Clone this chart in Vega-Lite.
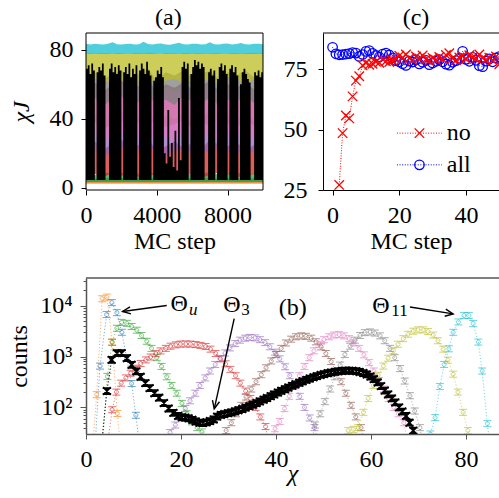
{
"$schema": "https://vega.github.io/schema/vega-lite/v6.json",
"width": 413, "height": 401,
"autosize": {"type": "none"},
"padding": {"left": 86, "top": 33, "right": 0, "bottom": 64},
"background": "white",
"config": {
  "view": {"stroke": null},
  "font": "Liberation Serif",
  "axis": {"labelFont": "Liberation Serif", "titleFont": "Liberation Serif", "labelFontSize": 24, "titleFontSize": 24, "titleFontWeight": "normal", "labelColor": "black", "titleColor": "black", "tickColor": "black", "domainColor": "black", "grid": false, "tickSize": 5, "labelPadding": 8, "labelFlush": false, "labelOverlap": false, "tickWidth": 1, "domainWidth": 1},
  "text": {"font": "Liberation Serif", "fontSize": 24, "color": "black"}
},
"datasets": {
"ta": [
{"t":0,"s":"blue","lo":3,"hi":5.6},{"t":500,"s":"blue","lo":3,"hi":5.2},{"t":1000,"s":"blue","lo":3,"hi":6.0},{"t":1500,"s":"blue","lo":3,"hi":5.4},{"t":2000,"s":"blue","lo":3,"hi":5.8},{"t":2500,"s":"blue","lo":3,"hi":5.1},{"t":3000,"s":"blue","lo":3,"hi":5.5},{"t":3500,"s":"blue","lo":3,"hi":6.1},{"t":4000,"s":"blue","lo":3,"hi":5.3},{"t":4500,"s":"blue","lo":3,"hi":5.7},{"t":5000,"s":"blue","lo":3,"hi":5.0},{"t":5500,"s":"blue","lo":3,"hi":5.9},{"t":6000,"s":"blue","lo":3,"hi":5.4},{"t":6500,"s":"blue","lo":3,"hi":5.6},{"t":7000,"s":"blue","lo":3,"hi":6.0},{"t":7500,"s":"blue","lo":3,"hi":5.2},{"t":8000,"s":"blue","lo":3,"hi":5.5},{"t":8500,"s":"blue","lo":3,"hi":5.8},{"t":9000,"s":"blue","lo":3,"hi":5.3},{"t":9500,"s":"blue","lo":3,"hi":5.7},{"t":10000,"s":"blue","lo":3,"hi":5.4},
{"t":0,"s":"orange","lo":2.3,"hi":4.2},{"t":500,"s":"orange","lo":2.3,"hi":3.9},{"t":1000,"s":"orange","lo":2.3,"hi":4.4},{"t":1500,"s":"orange","lo":2.3,"hi":4.0},{"t":2000,"s":"orange","lo":2.3,"hi":4.3},{"t":2500,"s":"orange","lo":2.3,"hi":3.8},{"t":3000,"s":"orange","lo":2.3,"hi":4.1},{"t":3500,"s":"orange","lo":2.3,"hi":4.5},{"t":4000,"s":"orange","lo":2.3,"hi":3.9},{"t":4500,"s":"orange","lo":2.3,"hi":4.2},{"t":5000,"s":"orange","lo":2.3,"hi":4.0},{"t":5500,"s":"orange","lo":2.3,"hi":4.4},{"t":6000,"s":"orange","lo":2.3,"hi":3.8},{"t":6500,"s":"orange","lo":2.3,"hi":4.1},{"t":7000,"s":"orange","lo":2.3,"hi":4.3},{"t":7500,"s":"orange","lo":2.3,"hi":3.9},{"t":8000,"s":"orange","lo":2.3,"hi":4.2},{"t":8500,"s":"orange","lo":2.3,"hi":4.0},{"t":9000,"s":"orange","lo":2.3,"hi":4.4},{"t":9500,"s":"orange","lo":2.3,"hi":3.9},{"t":10000,"s":"orange","lo":2.3,"hi":4.1},
{"t":0,"s":"green","lo":3.4,"hi":8.5},{"t":500,"s":"green","lo":3.4,"hi":7.2},{"t":1000,"s":"green","lo":3.4,"hi":9.1},{"t":1500,"s":"green","lo":3.4,"hi":7.8},{"t":2000,"s":"green","lo":3.4,"hi":8.8},{"t":2500,"s":"green","lo":3.4,"hi":6.9},{"t":3000,"s":"green","lo":3.4,"hi":8.2},{"t":3500,"s":"green","lo":3.4,"hi":9.4},{"t":4000,"s":"green","lo":3.4,"hi":7.5},{"t":4500,"s":"green","lo":3.4,"hi":8.6},{"t":5000,"s":"green","lo":3.4,"hi":7.9},{"t":5500,"s":"green","lo":3.4,"hi":9.2},{"t":6000,"s":"green","lo":3.4,"hi":7.1},{"t":6500,"s":"green","lo":3.4,"hi":8.4},{"t":7000,"s":"green","lo":3.4,"hi":8.9},{"t":7500,"s":"green","lo":3.4,"hi":7.6},{"t":8000,"s":"green","lo":3.4,"hi":8.1},{"t":8500,"s":"green","lo":3.4,"hi":9.0},{"t":9000,"s":"green","lo":3.4,"hi":7.4},{"t":9500,"s":"green","lo":3.4,"hi":8.3},{"t":10000,"s":"green","lo":3.4,"hi":8.0},
{"t":0,"s":"red","lo":7,"hi":24},{"t":500,"s":"red","lo":8,"hi":27},{"t":1000,"s":"red","lo":6,"hi":22},{"t":1500,"s":"red","lo":9,"hi":26},{"t":2000,"s":"red","lo":7,"hi":28},{"t":2500,"s":"red","lo":8,"hi":23},{"t":3000,"s":"red","lo":6,"hi":25},{"t":3500,"s":"red","lo":7,"hi":29},{"t":4000,"s":"red","lo":8,"hi":21},{"t":4500,"s":"red","lo":9,"hi":24},{"t":5000,"s":"red","lo":6,"hi":27},{"t":5500,"s":"red","lo":7,"hi":23},{"t":6000,"s":"red","lo":8,"hi":26},{"t":6500,"s":"red","lo":6,"hi":22},{"t":7000,"s":"red","lo":7,"hi":28},{"t":7500,"s":"red","lo":9,"hi":25},{"t":8000,"s":"red","lo":8,"hi":24},{"t":8500,"s":"red","lo":6,"hi":27},{"t":9000,"s":"red","lo":7,"hi":21},{"t":9500,"s":"red","lo":8,"hi":25},{"t":10000,"s":"red","lo":7,"hi":26},
{"t":0,"s":"purple","lo":20,"hi":40},{"t":500,"s":"purple","lo":22,"hi":43},{"t":1000,"s":"purple","lo":18,"hi":38},{"t":1500,"s":"purple","lo":21,"hi":42},{"t":2000,"s":"purple","lo":23,"hi":45},{"t":2500,"s":"purple","lo":19,"hi":39},{"t":3000,"s":"purple","lo":22,"hi":41},{"t":3500,"s":"purple","lo":20,"hi":44},{"t":4000,"s":"purple","lo":24,"hi":37},{"t":4500,"s":"purple","lo":18,"hi":42},{"t":5000,"s":"purple","lo":21,"hi":40},{"t":5500,"s":"purple","lo":23,"hi":43},{"t":6000,"s":"purple","lo":19,"hi":39},{"t":6500,"s":"purple","lo":22,"hi":41},{"t":7000,"s":"purple","lo":20,"hi":44},{"t":7500,"s":"purple","lo":24,"hi":38},{"t":8000,"s":"purple","lo":21,"hi":42},{"t":8500,"s":"purple","lo":19,"hi":40},{"t":9000,"s":"purple","lo":23,"hi":43},{"t":9500,"s":"purple","lo":20,"hi":39},{"t":10000,"s":"purple","lo":22,"hi":41},
{"t":0,"s":"brown","lo":36,"hi":58},{"t":500,"s":"brown","lo":38,"hi":61},{"t":1000,"s":"brown","lo":34,"hi":56},{"t":1500,"s":"brown","lo":37,"hi":60},{"t":2000,"s":"brown","lo":39,"hi":62},{"t":2500,"s":"brown","lo":35,"hi":57},{"t":3000,"s":"brown","lo":38,"hi":59},{"t":3500,"s":"brown","lo":36,"hi":63},{"t":4000,"s":"brown","lo":40,"hi":55},{"t":4500,"s":"brown","lo":35,"hi":60},{"t":5000,"s":"brown","lo":37,"hi":58},{"t":5500,"s":"brown","lo":39,"hi":61},{"t":6000,"s":"brown","lo":34,"hi":57},{"t":6500,"s":"brown","lo":38,"hi":59},{"t":7000,"s":"brown","lo":36,"hi":62},{"t":7500,"s":"brown","lo":40,"hi":56},{"t":8000,"s":"brown","lo":37,"hi":60},{"t":8500,"s":"brown","lo":35,"hi":58},{"t":9000,"s":"brown","lo":39,"hi":61},{"t":9500,"s":"brown","lo":36,"hi":57},{"t":10000,"s":"brown","lo":38,"hi":59},
{"t":0,"s":"pink","lo":28,"hi":56},{"t":500,"s":"pink","lo":31,"hi":59},{"t":1000,"s":"pink","lo":27,"hi":54},{"t":1500,"s":"pink","lo":30,"hi":58},{"t":2000,"s":"pink","lo":32,"hi":60},{"t":2500,"s":"pink","lo":26,"hi":55},{"t":3000,"s":"pink","lo":29,"hi":57},{"t":3500,"s":"pink","lo":31,"hi":61},{"t":4000,"s":"pink","lo":28,"hi":53},{"t":4500,"s":"pink","lo":30,"hi":58},{"t":5000,"s":"pink","lo":27,"hi":56},{"t":5500,"s":"pink","lo":32,"hi":59},{"t":6000,"s":"pink","lo":29,"hi":55},{"t":6500,"s":"pink","lo":28,"hi":57},{"t":7000,"s":"pink","lo":31,"hi":60},{"t":7500,"s":"pink","lo":27,"hi":54},{"t":8000,"s":"pink","lo":30,"hi":58},{"t":8500,"s":"pink","lo":29,"hi":56},{"t":9000,"s":"pink","lo":32,"hi":59},{"t":9500,"s":"pink","lo":28,"hi":55},{"t":10000,"s":"pink","lo":30,"hi":57},
{"t":0,"s":"gray","lo":49,"hi":65},{"t":500,"s":"gray","lo":52,"hi":67},{"t":1000,"s":"gray","lo":48,"hi":63},{"t":1500,"s":"gray","lo":51,"hi":66},{"t":2000,"s":"gray","lo":53,"hi":68},{"t":2500,"s":"gray","lo":47,"hi":64},{"t":3000,"s":"gray","lo":50,"hi":66},{"t":3500,"s":"gray","lo":52,"hi":69},{"t":4000,"s":"gray","lo":49,"hi":62},{"t":4500,"s":"gray","lo":51,"hi":67},{"t":5000,"s":"gray","lo":48,"hi":65},{"t":5500,"s":"gray","lo":53,"hi":68},{"t":6000,"s":"gray","lo":50,"hi":64},{"t":6500,"s":"gray","lo":49,"hi":66},{"t":7000,"s":"gray","lo":52,"hi":68},{"t":7500,"s":"gray","lo":48,"hi":63},{"t":8000,"s":"gray","lo":51,"hi":67},{"t":8500,"s":"gray","lo":50,"hi":65},{"t":9000,"s":"gray","lo":53,"hi":68},{"t":9500,"s":"gray","lo":49,"hi":64},{"t":10000,"s":"gray","lo":51,"hi":66},
{"t":0,"s":"olive","lo":62,"hi":78.0},{"t":500,"s":"olive","lo":63,"hi":78.2},{"t":1000,"s":"olive","lo":62,"hi":78.0},{"t":1500,"s":"olive","lo":61,"hi":78.1},{"t":2000,"s":"olive","lo":62,"hi":77.9},{"t":2500,"s":"olive","lo":63,"hi":78.1},{"t":3000,"s":"olive","lo":62,"hi":78.0},{"t":3500,"s":"olive","lo":60,"hi":78.2},{"t":4000,"s":"olive","lo":63,"hi":78.0},{"t":4500,"s":"olive","lo":62,"hi":78.1},{"t":5000,"s":"olive","lo":63,"hi":77.9},{"t":5500,"s":"olive","lo":61,"hi":78.0},{"t":6000,"s":"olive","lo":62,"hi":78.2},{"t":6500,"s":"olive","lo":63,"hi":78.0},{"t":7000,"s":"olive","lo":62,"hi":78.1},{"t":7500,"s":"olive","lo":60,"hi":77.9},{"t":8000,"s":"olive","lo":64,"hi":78.0},{"t":8500,"s":"olive","lo":63,"hi":78.1},{"t":9000,"s":"olive","lo":60,"hi":78.0},{"t":9500,"s":"olive","lo":63,"hi":78.2},{"t":10000,"s":"olive","lo":62,"hi":78.0},
{"t":0,"s":"cyan","lo":77.7,"hi":83.4},{"t":250,"s":"cyan","lo":77.6,"hi":83.1},{"t":500,"s":"cyan","lo":77.8,"hi":83.5},{"t":750,"s":"cyan","lo":77.6,"hi":83.2},{"t":1000,"s":"cyan","lo":77.5,"hi":83.0},{"t":1250,"s":"cyan","lo":77.6,"hi":83.4},{"t":1500,"s":"cyan","lo":77.8,"hi":84.4},{"t":1750,"s":"cyan","lo":77.6,"hi":83.2},{"t":2000,"s":"cyan","lo":77.5,"hi":83.0},{"t":2250,"s":"cyan","lo":77.7,"hi":83.3},{"t":2500,"s":"cyan","lo":77.8,"hi":83.5},{"t":2750,"s":"cyan","lo":77.6,"hi":83.1},{"t":3000,"s":"cyan","lo":77.5,"hi":83.2},{"t":3250,"s":"cyan","lo":77.7,"hi":84.6},{"t":3500,"s":"cyan","lo":77.6,"hi":83.3},{"t":3750,"s":"cyan","lo":77.5,"hi":83.0},{"t":4000,"s":"cyan","lo":77.7,"hi":83.4},{"t":4250,"s":"cyan","lo":77.8,"hi":83.6},{"t":4500,"s":"cyan","lo":77.6,"hi":83.1},{"t":4750,"s":"cyan","lo":77.5,"hi":82.9},{"t":5000,"s":"cyan","lo":77.6,"hi":83.4},{"t":5250,"s":"cyan","lo":77.7,"hi":84.1},{"t":5500,"s":"cyan","lo":77.6,"hi":83.2},{"t":5750,"s":"cyan","lo":77.6,"hi":83.1},{"t":6000,"s":"cyan","lo":77.8,"hi":83.4},{"t":6250,"s":"cyan","lo":77.6,"hi":83.5},{"t":6500,"s":"cyan","lo":77.5,"hi":83.0},{"t":6750,"s":"cyan","lo":77.7,"hi":83.2},{"t":7000,"s":"cyan","lo":77.7,"hi":84.3},{"t":7250,"s":"cyan","lo":77.6,"hi":83.2},{"t":7500,"s":"cyan","lo":77.5,"hi":83.1},{"t":7750,"s":"cyan","lo":77.7,"hi":83.4},{"t":8000,"s":"cyan","lo":77.7,"hi":83.6},{"t":8250,"s":"cyan","lo":77.6,"hi":83.0},{"t":8500,"s":"cyan","lo":77.6,"hi":83.3},{"t":8750,"s":"cyan","lo":77.7,"hi":83.9},{"t":9000,"s":"cyan","lo":77.6,"hi":83.2},{"t":9250,"s":"cyan","lo":77.5,"hi":83.0},{"t":9500,"s":"cyan","lo":77.6,"hi":83.4},{"t":9750,"s":"cyan","lo":77.7,"hi":83.5},{"t":10000,"s":"cyan","lo":77.6,"hi":83.2}
],
"tk": [
{"t":0,"lo":4.5,"hi":69},{"t":100,"lo":4.5,"hi":71},{"t":200,"lo":4.5,"hi":66},{"t":300,"lo":4.5,"hi":72},{"t":400,"lo":4.5,"hi":68},{"t":500,"lo":4.5,"hi":4.5},{"t":600,"lo":4.5,"hi":67},{"t":700,"lo":4.5,"hi":70},{"t":800,"lo":4.5,"hi":68},{"t":900,"lo":4.5,"hi":72},
{"t":1000,"lo":4.5,"hi":65},{"t":1100,"lo":4.5,"hi":4.5},{"t":1200,"lo":4.5,"hi":4.5},{"t":1300,"lo":4.5,"hi":69},{"t":1400,"lo":4.5,"hi":72},{"t":1500,"lo":4.5,"hi":67},{"t":1600,"lo":4.5,"hi":70},{"t":1700,"lo":4.5,"hi":66},{"t":1800,"lo":4.5,"hi":71},{"t":1900,"lo":4.5,"hi":68},
{"t":2000,"lo":4.5,"hi":4.5},{"t":2100,"lo":4.5,"hi":67},{"t":2200,"lo":4.5,"hi":70},{"t":2300,"lo":4.5,"hi":66},{"t":2400,"lo":4.5,"hi":72},{"t":2500,"lo":4.5,"hi":64},{"t":2600,"lo":4.5,"hi":69},{"t":2700,"lo":4.5,"hi":66},{"t":2800,"lo":4.5,"hi":71},{"t":2900,"lo":4.5,"hi":4.5},
{"t":3000,"lo":4.5,"hi":68},{"t":3100,"lo":4.5,"hi":72},{"t":3200,"lo":4.5,"hi":69},{"t":3300,"lo":4.5,"hi":66},{"t":3400,"lo":4.5,"hi":73},{"t":3500,"lo":4.5,"hi":68},{"t":3600,"lo":4.5,"hi":65},{"t":3700,"lo":4.5,"hi":4.5},{"t":3800,"lo":4.5,"hi":62},{"t":3900,"lo":4.5,"hi":64},
{"t":4000,"lo":4.5,"hi":68},{"t":4100,"lo":4.5,"hi":66},{"t":4200,"lo":4.5,"hi":70},{"t":4300,"lo":4.5,"hi":64},{"t":4400,"lo":4.5,"hi":20},{"t":4500,"lo":4.5,"hi":14},{"t":4600,"lo":4.5,"hi":45},{"t":4700,"lo":4.5,"hi":18},{"t":4800,"lo":4.5,"hi":26},{"t":4900,"lo":4.5,"hi":12},
{"t":5000,"lo":4.5,"hi":33},{"t":5100,"lo":4.5,"hi":10},{"t":5200,"lo":4.5,"hi":52},{"t":5300,"lo":4.5,"hi":16},{"t":5400,"lo":4.5,"hi":70},{"t":5500,"lo":4.5,"hi":73},{"t":5600,"lo":4.5,"hi":69},{"t":5700,"lo":4.5,"hi":72},{"t":5800,"lo":4.5,"hi":4.5},{"t":5900,"lo":4.5,"hi":66},
{"t":6000,"lo":4.5,"hi":70},{"t":6100,"lo":4.5,"hi":74},{"t":6200,"lo":4.5,"hi":71},{"t":6300,"lo":4.5,"hi":73},{"t":6400,"lo":4.5,"hi":69},{"t":6500,"lo":4.5,"hi":72},{"t":6600,"lo":4.5,"hi":70},{"t":6700,"lo":4.5,"hi":4.5},{"t":6800,"lo":4.5,"hi":4.5},{"t":6900,"lo":4.5,"hi":67},
{"t":7000,"lo":4.5,"hi":69},{"t":7100,"lo":4.5,"hi":65},{"t":7200,"lo":4.5,"hi":68},{"t":7300,"lo":4.5,"hi":4.5},{"t":7400,"lo":4.5,"hi":63},{"t":7500,"lo":4.5,"hi":70},{"t":7600,"lo":4.5,"hi":72},{"t":7700,"lo":4.5,"hi":68},{"t":7800,"lo":4.5,"hi":71},{"t":7900,"lo":4.5,"hi":66},
{"t":8000,"lo":4.5,"hi":4.5},{"t":8100,"lo":4.5,"hi":69},{"t":8200,"lo":4.5,"hi":71},{"t":8300,"lo":4.5,"hi":67},{"t":8400,"lo":4.5,"hi":70},{"t":8500,"lo":4.5,"hi":65},{"t":8600,"lo":4.5,"hi":4.5},{"t":8700,"lo":4.5,"hi":60},{"t":8800,"lo":4.5,"hi":67},{"t":8900,"lo":4.5,"hi":69},
{"t":9000,"lo":4.5,"hi":66},{"t":9100,"lo":4.5,"hi":63},{"t":9200,"lo":4.5,"hi":61},{"t":9300,"lo":4.5,"hi":4.5},{"t":9400,"lo":4.5,"hi":4.5},{"t":9500,"lo":4.5,"hi":67},{"t":9600,"lo":4.5,"hi":65},{"t":9700,"lo":4.5,"hi":68},{"t":9800,"lo":4.5,"hi":64},{"t":9900,"lo":4.5,"hi":67},{"t":10000,"lo":4.5,"hi":67}
],
"cc": [
{"m":0,"v":84.0,"s":"all"},{"m":1,"v":81.3,"s":"all"},{"m":2,"v":80.9,"s":"all"},{"m":3,"v":81.0,"s":"all"},{"m":4,"v":81.2,"s":"all"},{"m":5,"v":81.4,"s":"all"},{"m":6,"v":81.8,"s":"all"},{"m":7,"v":81.6,"s":"all"},{"m":8,"v":80.2,"s":"all"},{"m":9,"v":81.0,"s":"all"},{"m":10,"v":82.3,"s":"all"},{"m":11,"v":82.6,"s":"all"},{"m":12,"v":81.5,"s":"all"},{"m":13,"v":80.6,"s":"all"},{"m":14,"v":80.0,"s":"all"},{"m":15,"v":81.2,"s":"all"},{"m":16,"v":81.6,"s":"all"},{"m":17,"v":80.8,"s":"all"},{"m":18,"v":79.6,"s":"all"},{"m":19,"v":78.5,"s":"all"},{"m":20,"v":78.0,"s":"all"},{"m":21,"v":77.2,"s":"all"},{"m":22,"v":76.5,"s":"all"},{"m":23,"v":78.3,"s":"all"},{"m":24,"v":77.9,"s":"all"},{"m":25,"v":78.8,"s":"all"},{"m":26,"v":77.1,"s":"all"},{"m":27,"v":77.8,"s":"all"},{"m":28,"v":78.6,"s":"all"},{"m":29,"v":76.8,"s":"all"},{"m":30,"v":77.5,"s":"all"},{"m":31,"v":78.2,"s":"all"},{"m":32,"v":78.9,"s":"all"},{"m":33,"v":78.0,"s":"all"},{"m":34,"v":77.0,"s":"all"},{"m":35,"v":76.6,"s":"all"},{"m":36,"v":77.8,"s":"all"},{"m":37,"v":78.5,"s":"all"},{"m":38,"v":79.4,"s":"all"},{"m":39,"v":82.3,"s":"all"},{"m":40,"v":79.0,"s":"all"},{"m":41,"v":78.2,"s":"all"},{"m":42,"v":79.8,"s":"all"},{"m":43,"v":78.6,"s":"all"},{"m":44,"v":76.4,"s":"all"},{"m":45,"v":76.0,"s":"all"},{"m":46,"v":78.3,"s":"all"},{"m":47,"v":79.2,"s":"all"},{"m":48,"v":78.0,"s":"all"},{"m":49,"v":79.6,"s":"all"},{"m":50,"v":80.1,"s":"all"},
{"m":2,"v":27.1,"s":"no"},{"m":3,"v":48.5,"s":"no"},{"m":4,"v":55.8,"s":"no"},{"m":5,"v":54.6,"s":"no"},{"m":6,"v":63.7,"s":"no"},{"m":7,"v":70.2,"s":"no"},{"m":8,"v":72.0,"s":"no"},{"m":9,"v":76.5,"s":"no"},{"m":10,"v":77.5,"s":"no"},{"m":11,"v":76.8,"s":"no"},{"m":12,"v":77.2,"s":"no"},{"m":13,"v":78.0,"s":"no"},{"m":14,"v":77.6,"s":"no"},{"m":15,"v":79.0,"s":"no"},{"m":16,"v":78.2,"s":"no"},{"m":17,"v":77.9,"s":"no"},{"m":18,"v":78.5,"s":"no"},{"m":19,"v":79.2,"s":"no"},{"m":20,"v":80.5,"s":"no"},{"m":21,"v":79.8,"s":"no"},{"m":22,"v":81.0,"s":"no"},{"m":23,"v":79.5,"s":"no"},{"m":24,"v":78.7,"s":"no"},{"m":25,"v":80.2,"s":"no"},{"m":26,"v":79.4,"s":"no"},{"m":27,"v":80.6,"s":"no"},{"m":28,"v":79.0,"s":"no"},{"m":29,"v":78.4,"s":"no"},{"m":30,"v":79.6,"s":"no"},{"m":31,"v":78.8,"s":"no"},{"m":32,"v":80.0,"s":"no"},{"m":33,"v":79.2,"s":"no"},{"m":34,"v":80.8,"s":"no"},{"m":35,"v":81.5,"s":"no"},{"m":36,"v":79.3,"s":"no"},{"m":37,"v":78.6,"s":"no"},{"m":38,"v":79.8,"s":"no"},{"m":39,"v":80.4,"s":"no"},{"m":40,"v":79.1,"s":"no"},{"m":41,"v":80.7,"s":"no"},{"m":42,"v":79.9,"s":"no"},{"m":43,"v":79.4,"s":"no"},{"m":44,"v":81.0,"s":"no"},{"m":45,"v":79.6,"s":"no"},{"m":46,"v":78.9,"s":"no"},{"m":47,"v":79.7,"s":"no"},{"m":48,"v":78.5,"s":"no"},{"m":49,"v":80.2,"s":"no"},{"m":50,"v":77.0,"s":"no"}
],
"hb": [
{"c":1.8,"v":12,"s":"blue"},{"c":2.95,"v":650,"s":"blue"},{"c":4.35,"v":6700,"s":"blue"},{"c":5.45,"v":11500,"s":"blue"},{"c":6.5,"v":7300,"s":"blue"},{"c":7.55,"v":3000,"s":"blue"},{"c":8.55,"v":950,"s":"blue"},{"c":9.6,"v":295,"s":"blue"},{"c":10.5,"v":70,"s":"blue"},{"c":11.5,"v":12,"s":"blue"},
{"c":1.1,"v":8,"s":"orange"},{"c":2.25,"v":178,"s":"orange"},{"c":3.4,"v":13700,"s":"orange"},{"c":4.4,"v":14800,"s":"orange"},{"c":5.5,"v":1940,"s":"orange"},{"c":6.6,"v":76,"s":"orange"},{"c":7.7,"v":6,"s":"orange"},
{"c":3.4,"v":15,"s":"green"},{"c":4.5,"v":407,"s":"green"},{"c":5.5,"v":1900,"s":"green"},{"c":6.5,"v":3600,"s":"green"},{"c":7.5,"v":4700,"s":"green"},{"c":8.6,"v":4500,"s":"green"},{"c":9.6,"v":3900,"s":"green"},{"c":10.7,"v":3300,"s":"green"},{"c":11.7,"v":2600,"s":"green"},{"c":12.8,"v":2000,"s":"green"},{"c":13.8,"v":1450,"s":"green"},{"c":14.9,"v":950,"s":"green"},{"c":15.9,"v":640,"s":"green"},{"c":17.0,"v":400,"s":"green"},{"c":18.0,"v":270,"s":"green"},{"c":19.1,"v":190,"s":"green"},{"c":20.2,"v":120,"s":"green"},{"c":21.2,"v":75,"s":"green"},{"c":22.3,"v":52,"s":"green"},{"c":23.4,"v":40,"s":"green"},{"c":24.4,"v":33,"s":"green"},{"c":25.5,"v":12,"s":"green"},
{"c":4.4,"v":15,"s":"red"},{"c":5.5,"v":90,"s":"red"},{"c":6.4,"v":200,"s":"red"},{"c":7.4,"v":300,"s":"red"},{"c":8.4,"v":380,"s":"red"},{"c":9.4,"v":470,"s":"red"},{"c":10.5,"v":590,"s":"red"},{"c":11.5,"v":730,"s":"red"},{"c":12.6,"v":860,"s":"red"},{"c":13.6,"v":980,"s":"red"},{"c":14.7,"v":1140,"s":"red"},{"c":15.7,"v":1290,"s":"red"},{"c":16.8,"v":1450,"s":"red"},{"c":17.8,"v":1600,"s":"red"},{"c":18.9,"v":1700,"s":"red"},{"c":19.9,"v":1760,"s":"red"},{"c":21.0,"v":1770,"s":"red"},{"c":22.0,"v":1760,"s":"red"},{"c":23.1,"v":1720,"s":"red"},{"c":24.1,"v":1660,"s":"red"},{"c":25.2,"v":1580,"s":"red"},{"c":26.2,"v":1400,"s":"red"},{"c":27.3,"v":1150,"s":"red"},{"c":28.3,"v":900,"s":"red"},{"c":29.4,"v":720,"s":"red"},{"c":30.4,"v":560,"s":"red"},{"c":31.5,"v":420,"s":"red"},{"c":32.5,"v":300,"s":"red"},{"c":33.6,"v":210,"s":"red"},{"c":34.6,"v":150,"s":"red"},{"c":35.7,"v":100,"s":"red"},{"c":36.7,"v":65,"s":"red"},{"c":37.8,"v":42,"s":"red"},{"c":38.8,"v":15,"s":"red"},
{"c":16.6,"v":15,"s":"purple"},{"c":17.7,"v":32,"s":"purple"},{"c":18.8,"v":45,"s":"purple"},{"c":19.8,"v":65,"s":"purple"},{"c":20.9,"v":95,"s":"purple"},{"c":21.9,"v":135,"s":"purple"},{"c":23.0,"v":190,"s":"purple"},{"c":24.0,"v":270,"s":"purple"},{"c":25.1,"v":380,"s":"purple"},{"c":26.1,"v":520,"s":"purple"},{"c":27.2,"v":700,"s":"purple"},{"c":28.2,"v":920,"s":"purple"},{"c":29.3,"v":1180,"s":"purple"},{"c":30.3,"v":1480,"s":"purple"},{"c":31.4,"v":1800,"s":"purple"},{"c":32.4,"v":2100,"s":"purple"},{"c":33.5,"v":2300,"s":"purple"},{"c":34.5,"v":2380,"s":"purple"},{"c":35.6,"v":2330,"s":"purple"},{"c":36.6,"v":2150,"s":"purple"},{"c":37.7,"v":1880,"s":"purple"},{"c":38.7,"v":1560,"s":"purple"},{"c":39.8,"v":1220,"s":"purple"},{"c":40.8,"v":900,"s":"purple"},{"c":41.9,"v":630,"s":"purple"},{"c":42.9,"v":420,"s":"purple"},{"c":44.0,"v":270,"s":"purple"},{"c":45.0,"v":165,"s":"purple"},{"c":46.0,"v":100,"s":"purple"},{"c":47.1,"v":62,"s":"purple"},{"c":48.1,"v":40,"s":"purple"},{"c":49.2,"v":15,"s":"purple"},
{"c":28.4,"v":15,"s":"brown"},{"c":29.5,"v":35,"s":"brown"},{"c":30.6,"v":50,"s":"brown"},{"c":31.6,"v":75,"s":"brown"},{"c":32.7,"v":110,"s":"brown"},{"c":33.7,"v":160,"s":"brown"},{"c":34.8,"v":230,"s":"brown"},{"c":35.8,"v":320,"s":"brown"},{"c":36.9,"v":440,"s":"brown"},{"c":37.9,"v":600,"s":"brown"},{"c":39.0,"v":820,"s":"brown"},{"c":40.0,"v":1100,"s":"brown"},{"c":41.1,"v":1450,"s":"brown"},{"c":42.1,"v":1850,"s":"brown"},{"c":43.2,"v":2200,"s":"brown"},{"c":44.2,"v":2450,"s":"brown"},{"c":45.3,"v":2550,"s":"brown"},{"c":46.3,"v":2500,"s":"brown"},{"c":47.4,"v":2300,"s":"brown"},{"c":48.4,"v":1950,"s":"brown"},{"c":49.5,"v":1550,"s":"brown"},{"c":50.5,"v":1150,"s":"brown"},{"c":51.6,"v":800,"s":"brown"},{"c":52.6,"v":520,"s":"brown"},{"c":53.7,"v":320,"s":"brown"},{"c":54.7,"v":190,"s":"brown"},{"c":55.8,"v":110,"s":"brown"},{"c":56.8,"v":65,"s":"brown"},{"c":57.9,"v":40,"s":"brown"},{"c":58.9,"v":15,"s":"brown"},
{"c":38.8,"v":15,"s":"pink"},{"c":39.8,"v":38,"s":"pink"},{"c":40.8,"v":53,"s":"pink"},{"c":41.8,"v":95,"s":"pink"},{"c":42.8,"v":165,"s":"pink"},{"c":43.9,"v":270,"s":"pink"},{"c":44.9,"v":420,"s":"pink"},{"c":46.0,"v":640,"s":"pink"},{"c":47.0,"v":950,"s":"pink"},{"c":48.0,"v":1300,"s":"pink"},{"c":49.1,"v":1750,"s":"pink"},{"c":50.1,"v":2150,"s":"pink"},{"c":51.2,"v":2450,"s":"pink"},{"c":52.2,"v":2650,"s":"pink"},{"c":53.3,"v":2700,"s":"pink"},{"c":54.3,"v":2550,"s":"pink"},{"c":55.4,"v":2250,"s":"pink"},{"c":56.4,"v":1850,"s":"pink"},{"c":57.5,"v":1450,"s":"pink"},{"c":58.5,"v":1080,"s":"pink"},{"c":59.6,"v":760,"s":"pink"},{"c":60.6,"v":520,"s":"pink"},{"c":61.7,"v":340,"s":"pink"},{"c":62.7,"v":230,"s":"pink"},{"c":63.7,"v":150,"s":"pink"},{"c":64.8,"v":100,"s":"pink"},{"c":65.8,"v":75,"s":"pink"},{"c":66.9,"v":50,"s":"pink"},{"c":68.0,"v":15,"s":"pink"},
{"c":47.2,"v":15,"s":"gray"},{"c":48.2,"v":45,"s":"gray"},{"c":49.3,"v":75,"s":"gray"},{"c":50.3,"v":130,"s":"gray"},{"c":51.4,"v":230,"s":"gray"},{"c":52.4,"v":400,"s":"gray"},{"c":53.5,"v":680,"s":"gray"},{"c":54.5,"v":1100,"s":"gray"},{"c":55.6,"v":1600,"s":"gray"},{"c":56.6,"v":2100,"s":"gray"},{"c":57.7,"v":2600,"s":"gray"},{"c":58.7,"v":2950,"s":"gray"},{"c":59.8,"v":3050,"s":"gray"},{"c":60.8,"v":2900,"s":"gray"},{"c":61.9,"v":2550,"s":"gray"},{"c":62.9,"v":2050,"s":"gray"},{"c":64.0,"v":1450,"s":"gray"},{"c":65.0,"v":950,"s":"gray"},{"c":66.1,"v":580,"s":"gray"},{"c":67.1,"v":330,"s":"gray"},{"c":68.2,"v":170,"s":"gray"},{"c":69.2,"v":85,"s":"gray"},{"c":70.3,"v":40,"s":"gray"},{"c":71.3,"v":12,"s":"gray"},
{"c":54.2,"v":12,"s":"olive"},{"c":55.2,"v":35,"s":"olive"},{"c":56.3,"v":37,"s":"olive"},{"c":57.3,"v":40,"s":"olive"},{"c":58.4,"v":80,"s":"olive"},{"c":59.4,"v":150,"s":"olive"},{"c":60.5,"v":270,"s":"olive"},{"c":61.5,"v":430,"s":"olive"},{"c":62.6,"v":650,"s":"olive"},{"c":63.6,"v":930,"s":"olive"},{"c":64.7,"v":1300,"s":"olive"},{"c":65.7,"v":1750,"s":"olive"},{"c":66.8,"v":2250,"s":"olive"},{"c":67.8,"v":2750,"s":"olive"},{"c":68.9,"v":3150,"s":"olive"},{"c":69.9,"v":3350,"s":"olive"},{"c":71.0,"v":3350,"s":"olive"},{"c":72.0,"v":3100,"s":"olive"},{"c":73.1,"v":2650,"s":"olive"},{"c":74.1,"v":2050,"s":"olive"},{"c":75.2,"v":1400,"s":"olive"},{"c":76.2,"v":850,"s":"olive"},{"c":77.3,"v":450,"s":"olive"},{"c":78.3,"v":200,"s":"olive"},{"c":79.4,"v":80,"s":"olive"},{"c":80.4,"v":35,"s":"olive"},{"c":81.4,"v":12,"s":"olive"},
{"c":71.5,"v":10,"s":"cyan"},{"c":72.5,"v":30,"s":"cyan"},{"c":73.5,"v":63,"s":"cyan"},{"c":74.5,"v":257,"s":"cyan"},{"c":75.4,"v":700,"s":"cyan"},{"c":76.4,"v":1420,"s":"cyan"},{"c":77.3,"v":3000,"s":"cyan"},{"c":78.4,"v":4800,"s":"cyan"},{"c":79.6,"v":6450,"s":"cyan"},{"c":80.6,"v":6400,"s":"cyan"},{"c":81.5,"v":4450,"s":"cyan"},{"c":82.6,"v":1930,"s":"cyan"},{"c":83.4,"v":520,"s":"cyan"},{"c":84.5,"v":48,"s":"cyan"},{"c":85.5,"v":8,"s":"cyan"}
],
"hk": [
{"c":3.3,"v":20},{"c":4.4,"v":210},{"c":5.4,"v":860},{"c":6.5,"v":1170},{"c":7.5,"v":1170},{"c":8.6,"v":930},{"c":9.6,"v":690},{"c":10.6,"v":510},{"c":11.5,"v":400},{"c":12.5,"v":300},{"c":13.4,"v":240},{"c":14.4,"v":190},{"c":15.4,"v":155},{"c":16.4,"v":122},{"c":17.4,"v":95},{"c":18.4,"v":78},{"c":19.4,"v":68},{"c":20.2,"v":64},{"c":20.9,"v":63},{"c":21.6,"v":61},{"c":22.4,"v":57},{"c":23.1,"v":53},{"c":23.9,"v":50},{"c":24.6,"v":49},{"c":25.4,"v":51},{"c":26.1,"v":54},{"c":26.9,"v":58},{"c":27.6,"v":66},{"c":28.4,"v":71},{"c":29.1,"v":74},{"c":29.9,"v":77},{"c":30.6,"v":80},{"c":31.4,"v":84},{"c":32.1,"v":88},{"c":32.9,"v":93},{"c":33.6,"v":99},{"c":34.4,"v":106},{"c":35.1,"v":113},{"c":35.9,"v":122},{"c":36.6,"v":131},{"c":37.4,"v":142},{"c":38.1,"v":153},{"c":38.9,"v":166},{"c":39.6,"v":180},{"c":40.4,"v":196},{"c":41.1,"v":212},{"c":41.9,"v":228},{"c":42.6,"v":246},{"c":43.4,"v":265},{"c":44.1,"v":285},{"c":44.9,"v":305},{"c":45.6,"v":326},{"c":46.4,"v":348},{"c":47.1,"v":370},{"c":47.9,"v":392},{"c":48.6,"v":413},{"c":49.4,"v":434},{"c":50.1,"v":452},{"c":50.9,"v":470},{"c":51.6,"v":486},{"c":52.4,"v":500},{"c":53.1,"v":512},{"c":53.9,"v":522},{"c":54.6,"v":528},{"c":55.4,"v":530},{"c":56.1,"v":526},{"c":56.9,"v":515},{"c":57.6,"v":498},{"c":58.4,"v":475},{"c":59.1,"v":445},{"c":59.9,"v":405},{"c":60.6,"v":360},{"c":61.4,"v":310},{"c":62.1,"v":262},{"c":62.9,"v":215},{"c":63.6,"v":180},{"c":64.4,"v":150},{"c":65.1,"v":125},{"c":65.9,"v":100},{"c":66.6,"v":83},{"c":67.4,"v":68},{"c":68.1,"v":50},{"c":68.9,"v":35},{"c":69.6,"v":12}
]
},
"layer": [
{
"layer": [
 {"data": {"name": "ta"}, "mark": {"type": "area", "opacity": 0.75},
  "encoding": {
   "x": {"field": "t", "type": "quantitative", "scale": {"domain": [0, 10000], "range": [0, 177], "nice": false, "zero": false}, "axis": {"orient": "bottom", "offset": -244, "values": [0, 4000, 8000], "format": "d", "title": "MC step", "titlePadding": 2, "domain": false}},
   "y": {"field": "lo", "type": "quantitative", "stack": null, "scale": {"domain": [-1.3, 89.7], "range": [157, 0], "nice": false, "zero": false}, "axis": {"orient": "left", "values": [0, 40, 80], "title": "χJ", "titleFontStyle": "italic", "titlePadding": 16, "domain": false}},
   "y2": {"field": "hi"},
   "color": {"field": "s", "type": "nominal", "scale": {"domain": ["blue","orange","green","red","purple","brown","pink","gray","olive","cyan"], "range": ["#1f77b4","#ff7f0e","#2ca02c","#d62728","#9467bd","#8c564b","#e377c2","#7f7f7f","#bcbd22","#17becf"]}, "legend": null}
  }},
 {"data": {"name": "tk"}, "mark": {"type": "area", "interpolate": "step-after", "color": "black"},
  "encoding": {"x": {"field": "t", "type": "quantitative"}, "y": {"field": "lo", "type": "quantitative"}, "y2": {"field": "hi"}}},
 {"data": {"values": [{}]}, "mark": {"type": "rect", "fill": "transparent", "stroke": "black", "strokeWidth": 1},
  "encoding": {"x": {"datum": 0}, "x2": {"datum": 10000}, "y": {"datum": -1.3}, "y2": {"datum": 89.7}}},
 {"data": {"values": [{}]}, "mark": {"type": "text", "fontSize": 24},
  "encoding": {"x": {"datum": 4650}, "y": {"datum": 98.4}, "text": {"value": "(a)"}}}
]
},
{
"layer": [
 {"data": {"name": "cc"}, "mark": {"type": "line", "strokeWidth": 1, "strokeDash": [1, 1.6]},
  "encoding": {
   "x": {"field": "m", "type": "quantitative", "scale": {"domain": [-2.87, 49.9], "range": [237, 413], "nice": false, "zero": false}, "axis": {"orient": "bottom", "offset": -244, "values": [0, 20, 40], "title": "MC step", "titlePadding": 2}},
   "y": {"field": "v", "type": "quantitative", "scale": {"domain": [25, 89.9], "range": [157, 0], "nice": false, "zero": false}, "axis": {"orient": "left", "offset": -237, "values": [25, 50, 75], "title": null, "labelPadding": 11}},
   "color": {"field": "s", "type": "nominal", "scale": {"domain": ["no", "all"], "range": ["#ff0000", "#0000ff"]}, "legend": null}
  }},
 {"data": {"name": "cc"}, "mark": {"type": "point", "filled": false, "strokeWidth": 1.3, "size": 90, "opacity": 1},
  "encoding": {
   "x": {"field": "m", "type": "quantitative"},
   "y": {"field": "v", "type": "quantitative"},
   "color": {"field": "s", "type": "nominal", "legend": null},
   "shape": {"field": "s", "type": "nominal", "scale": {"domain": ["no", "all"], "range": ["M-1,-1L1,1M-1,1L1,-1", "circle"]}, "legend": null}
  }},
 {"data": {"values": [{}]}, "mark": {"type": "rule", "color": "black", "strokeWidth": 1},
  "encoding": {"x": {"datum": -2.87}, "x2": {"datum": 49.9}, "y": {"datum": 89.9}}},
 {"data": {"values": [{}]}, "mark": {"type": "text", "fontSize": 24},
  "encoding": {"x": {"datum": 25}, "y": {"datum": 96.1}, "text": {"value": "(c)"}}},
 {"data": {"values": [{}]}, "mark": {"type": "rule", "color": "#ff0000", "strokeWidth": 1, "strokeDash": [1, 1.6]},
  "encoding": {"x": {"datum": 19.3}, "x2": {"datum": 32.75}, "y": {"datum": 48.5}}},
 {"data": {"values": [{}]}, "mark": {"type": "point", "shape": "M-1,-1L1,1M-1,1L1,-1", "size": 90, "filled": false, "color": "#ff0000", "strokeWidth": 1.3, "opacity": 1},
  "encoding": {"x": {"datum": 26.05}, "y": {"datum": 48.5}}},
 {"data": {"values": [{}]}, "mark": {"type": "text", "fontSize": 24, "align": "left"},
  "encoding": {"x": {"datum": 34.25}, "y": {"datum": 48.5}, "text": {"value": "no"}}},
 {"data": {"values": [{}]}, "mark": {"type": "rule", "color": "#0000ff", "strokeWidth": 1, "strokeDash": [1, 1.6]},
  "encoding": {"x": {"datum": 19.3}, "x2": {"datum": 32.75}, "y": {"datum": 35.4}}},
 {"data": {"values": [{}]}, "mark": {"type": "point", "shape": "circle", "size": 90, "filled": false, "color": "#0000ff", "strokeWidth": 1.3, "opacity": 1},
  "encoding": {"x": {"datum": 26.05}, "y": {"datum": 35.4}}},
 {"data": {"values": [{}]}, "mark": {"type": "text", "fontSize": 24, "align": "left"},
  "encoding": {"x": {"datum": 34.25}, "y": {"datum": 35.4}, "text": {"value": "all"}}}
]
},
{
"layer": [
 {"data": {"name": "hb"}, "mark": {"type": "line", "strokeWidth": 1, "strokeDash": [1.2, 2], "opacity": 0.6, "clip": true},
  "encoding": {
   "x": {"field": "c", "type": "quantitative", "scale": {"domain": [0, 86.95], "range": [0, 413], "nice": false, "zero": false}, "axis": {"orient": "bottom", "values": [0, 20, 40, 60, 80], "title": "χ", "titleFontStyle": "italic", "titlePadding": -10, "domainColor": "#555555", "domainWidth": 1.5, "tickColor": "#555555"}},
   "y": {"field": "v", "type": "quantitative", "scale": {"type": "log", "domain": [30, 35100], "range": [401, 245], "nice": false}, "axis": {"orient": "left", "values": [40,50,60,70,80,90,100,200,300,400,500,600,700,800,900,1000,2000,3000,4000,5000,6000,7000,8000,9000,10000,20000,30000], "labelExpr": "datum.value == 100 ? '10²' : datum.value == 1000 ? '10³' : datum.value == 10000 ? '10⁴' : ''", "tickSize": {"condition": {"test": "datum.value == 100 || datum.value == 1000 || datum.value == 10000", "value": 6}, "value": 3}, "title": "counts", "titlePadding": 8, "domainColor": "#555555", "domainWidth": 1.5, "tickColor": "#555555"}},
   "color": {"field": "s", "type": "nominal", "scale": {"domain": ["blue","orange","green","red","purple","brown","pink","gray","olive","cyan"], "range": ["#1f77b4","#ff7f0e","#2ca02c","#d62728","#9467bd","#8c564b","#e377c2","#7f7f7f","#bcbd22","#17becf"]}, "legend": null}
  }},
 {"data": {"name": "hb"}, "mark": {"type": "point", "shape": "M-1,-0.75H1M-1,0.75H1M0,-0.75V-0.5M0,0.5V0.75M0.5,0A0.5,0.5,0,1,1,-0.5,0A0.5,0.5,0,1,1,0.5,0", "size": 64, "filled": false, "strokeWidth": 1, "opacity": 0.65, "clip": true},
  "encoding": {"x": {"field": "c", "type": "quantitative"}, "y": {"field": "v", "type": "quantitative"}, "color": {"field": "s", "type": "nominal", "legend": null}}},
 {"data": {"name": "hk"}, "mark": {"type": "line", "color": "black", "strokeWidth": 1, "strokeDash": [1.2, 2], "clip": true},
  "encoding": {"x": {"field": "c", "type": "quantitative"}, "y": {"field": "v", "type": "quantitative"}}},
 {"data": {"name": "hk"}, "mark": {"type": "point", "shape": "M-1,-0.7H1M-1,0.7H1M0,-0.7V0.7M-0.9,-0.9L0.9,0.9M-0.9,0.9L0.9,-0.9", "size": 72, "filled": false, "color": "black", "strokeWidth": 1.8, "opacity": 1, "clip": true},
  "encoding": {"x": {"field": "c", "type": "quantitative"}, "y": {"field": "v", "type": "quantitative"}}},
 {"data": {"values": [{}]}, "mark": {"type": "rule", "color": "#555555", "strokeWidth": 1.5},
  "encoding": {"x": {"datum": 0}, "x2": {"datum": 86.95}, "y": {"datum": 35100}}},
 {"data": {"values": [{}]}, "mark": {"type": "text", "fontSize": 24},
  "encoding": {"x": {"datum": 43.5}, "y": {"datum": 9100}, "text": {"value": "(b)"}}},
 {"data": {"values": [{}]}, "mark": {"type": "text", "fontSize": 24},
  "encoding": {"x": {"datum": 19.6}, "y": {"datum": 10700}, "text": {"value": "Θ"}}},
 {"data": {"values": [{}]}, "mark": {"type": "text", "fontSize": 17, "fontStyle": "italic"},
  "encoding": {"x": {"datum": 22.6}, "y": {"datum": 8300}, "text": {"value": "u"}}},
 {"data": {"values": [{}]}, "mark": {"type": "text", "fontSize": 24},
  "encoding": {"x": {"datum": 30.7}, "y": {"datum": 10500}, "text": {"value": "Θ"}}},
 {"data": {"values": [{}]}, "mark": {"type": "text", "fontSize": 17},
  "encoding": {"x": {"datum": 33.6}, "y": {"datum": 8400}, "text": {"value": "3"}}},
 {"data": {"values": [{}]}, "mark": {"type": "text", "fontSize": 24},
  "encoding": {"x": {"datum": 62.1}, "y": {"datum": 9800}, "text": {"value": "Θ"}}},
 {"data": {"values": [{}]}, "mark": {"type": "text", "fontSize": 17},
  "encoding": {"x": {"datum": 66.0}, "y": {"datum": 8000}, "text": {"value": "11"}}},
 {"data": {"values": [{}]}, "mark": {"type": "rule", "color": "black", "strokeWidth": 1.4},
  "encoding": {"x": {"datum": 17.0}, "x2": {"datum": 7.7}, "y": {"datum": 10100}, "y2": {"datum": 7700}}},
 {"data": {"values": [{}]}, "mark": {"type": "point", "shape": "M-1,-0.45L0,0L-1,0.45", "size": 256, "filled": false, "color": "black", "strokeWidth": 1.4, "angle": 172, "opacity": 1},
  "encoding": {"x": {"datum": 7.7}, "y": {"datum": 7700}}},
 {"data": {"values": [{}]}, "mark": {"type": "rule", "color": "black", "strokeWidth": 1.4},
  "encoding": {"x": {"datum": 31.2}, "x2": {"datum": 27.0}, "y": {"datum": 5560}, "y2": {"datum": 94}}},
 {"data": {"values": [{}]}, "mark": {"type": "point", "shape": "M-1,-0.45L0,0L-1,0.45", "size": 256, "filled": false, "color": "black", "strokeWidth": 1.4, "angle": 102.5, "opacity": 1},
  "encoding": {"x": {"datum": 27.0}, "y": {"datum": 94}}},
 {"data": {"values": [{}]}, "mark": {"type": "rule", "color": "black", "strokeWidth": 1.4},
  "encoding": {"x": {"datum": 68.2}, "x2": {"datum": 77.3}, "y": {"datum": 9430}, "y2": {"datum": 6900}}},
 {"data": {"values": [{}]}, "mark": {"type": "point", "shape": "M-1,-0.45L0,0L-1,0.45", "size": 256, "filled": false, "color": "black", "strokeWidth": 1.4, "angle": 8.8, "opacity": 1},
  "encoding": {"x": {"datum": 77.3}, "y": {"datum": 6900}}}
]
}
],
"resolve": {"scale": {"x": "independent", "y": "independent", "color": "independent", "shape": "independent"}}
}
